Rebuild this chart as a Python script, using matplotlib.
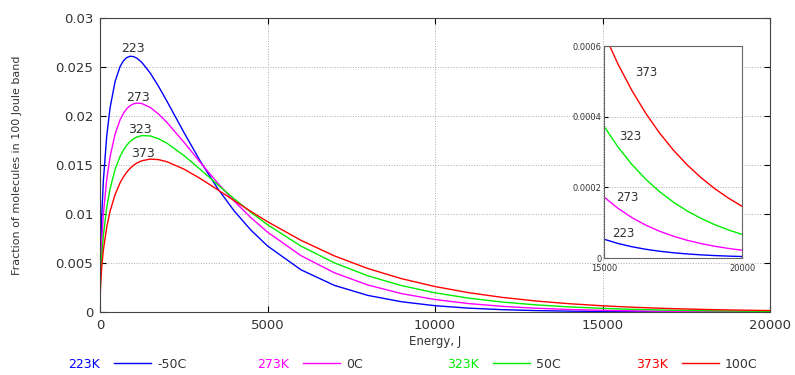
import matplotlib
matplotlib.use('Agg')
import matplotlib.pyplot as plt
from matplotlib.lines import Line2D

energy = [0, 5, 20, 50, 100, 200, 300, 450, 600, 700, 800, 900, 1000, 1100, 1250,
          1500, 1750, 2000, 2500, 3000, 3500, 4000, 4500, 5000, 6000, 7000, 8000,
          9000, 10000, 11000, 12000, 13000, 14000, 15000, 15500, 16000, 16500,
          17000, 17500, 18000, 18500, 19000, 19500, 20000]

frac_223 = [0, 0.003152, 0.006254, 0.009729, 0.013393, 0.017946, 0.020825, 0.023523,
            0.025052, 0.025638, 0.025968, 0.026097, 0.026064, 0.025901, 0.025465,
            0.024377, 0.023008, 0.021494, 0.018352, 0.015350, 0.012661, 0.010335,
            0.008371, 0.006738, 0.004304, 0.002711, 0.001690, 0.0010455, 0.0006424,
            0.0003929, 0.0002393, 0.0001452, 0.0000879, 0.00005304, 0.00004117,
            0.00003194, 0.00002477, 0.00001920, 0.00001488, 0.00001152, 0.00000892,
            0.00000690, 0.00000534, 0.00000413]
frac_273 = [0, 0.002328, 0.004626, 0.007218, 0.009986, 0.013513, 0.015837, 0.018155,
            0.019623, 0.020283, 0.020748, 0.021058, 0.021241, 0.021317, 0.021271,
            0.020871, 0.020192, 0.019335, 0.017343, 0.015242, 0.013208, 0.011328,
            0.009640, 0.008152, 0.005748, 0.003996, 0.002750, 0.001877, 0.0012736,
            0.0008601, 0.0005780, 0.0003873, 0.0002587, 0.0001723, 0.0001406,
            0.0001146, 0.0000933, 0.0000760, 0.0000619, 0.0000503, 0.0000410,
            0.0000333, 0.0000271, 0.0000220]
frac_323 = [0, 0.001810, 0.003599, 0.005628, 0.007812, 0.010644, 0.012560, 0.014547,
            0.015885, 0.016530, 0.017025, 0.017399, 0.017669, 0.017854, 0.017999,
            0.017964, 0.017678, 0.017219, 0.015981, 0.014532, 0.013030, 0.011563,
            0.010181, 0.008909, 0.006725, 0.005005, 0.003687, 0.002695, 0.001958,
            0.001415, 0.001018, 0.0007305, 0.0005222, 0.0003725, 0.0003143,
            0.0002651, 0.0002235, 0.0001883, 0.0001586, 0.0001335, 0.0001124,
            0.0000945, 0.0000795, 0.0000668]
frac_373 = [0, 0.001459, 0.002903, 0.004546, 0.006327, 0.008663, 0.010274, 0.011989,
            0.013190, 0.013794, 0.014279, 0.014664, 0.014967, 0.015199, 0.015437,
            0.015601, 0.015546, 0.015332, 0.014589, 0.013602, 0.012504, 0.011377,
            0.010270, 0.009214, 0.007311, 0.005720, 0.004430, 0.003403, 0.002599,
            0.001974, 0.001494, 0.001126, 0.0008465, 0.0006349, 0.0005491,
            0.0004748, 0.0004104, 0.0003545, 0.0003061, 0.0002642, 0.0002280,
            0.0001967, 0.0001696, 0.0001461]

series = [frac_223, frac_273, frac_323, frac_373]
temps_k = ['223K', '273K', '323K', '373K']
temps_c = ['-50C', '0C', '50C', '100C']
peak_labels = ['223', '273', '323', '373']
colors = ['#0000ff', '#ff00ff', '#00ee00', '#ff0000']

# label anchors in data coords (main plot and inset)
main_lbl_pos = [(985, 0.0269), (1134, 0.0219), (1194, 0.0186), (1283, 0.0162)]
inset_lbl_pos = [(15700, 0.000068), (15830, 0.00017), (15940, 0.000345), (16520, 0.000526)]

txt = '#333333'
fig = plt.figure(figsize=(7.95, 3.75), dpi=100)
ax = fig.add_axes([0.1258, 0.168, 0.8428, 0.784])

for ys, c in zip(series, colors):
    ax.plot(energy, ys, color=c, lw=1.0)
for (x, y), s in zip(main_lbl_pos, peak_labels):
    ax.text(x, y, s, ha='center', va='center', fontsize=9, color=txt)

ax.set_xlim(0, 20000)
ax.set_ylim(0, 0.03)
ax.set_xticks([0, 5000, 10000, 15000, 20000])
ax.set_yticks([0, 0.005, 0.01, 0.015, 0.02, 0.025, 0.03])
ax.set_yticklabels(['0', '0.005', '0.01', '0.015', '0.02', '0.025', '0.03'])
ax.tick_params(direction='in', top=True, right=True, labelsize=9.5,
               labelcolor=txt, length=4, pad=5)
ax.grid(True, linestyle=':', color='#aaaaaa', lw=0.7)
for sp in ax.spines.values():
    sp.set_color('#444444')
ax.set_xlabel('Energy, J', fontsize=8.5, color=txt, labelpad=2)
ax.set_ylabel('Fraction of molecules in 100 Joule band', fontsize=8, color=txt, labelpad=24)

# inset
ins = fig.add_axes([0.760, 0.312, 0.1736, 0.565])
for ys, c in zip(series, colors):
    ins.plot(energy, ys, color=c, lw=1.0)
for (x, y), s in zip(inset_lbl_pos, peak_labels):
    ins.text(x, y, s, ha='center', va='center', fontsize=8.5, color=txt)
ins.set_xlim(15000, 20000)
ins.set_ylim(0, 0.0006)
ins.set_xticks([15000, 20000])
ins.set_yticks([0, 0.0002, 0.0004, 0.0006])
ins.set_yticklabels(['0', '0.0002', '0.0004', '0.0006'])
ins.tick_params(direction='in', labelsize=6, labelcolor=txt, length=3, pad=2)
ins.tick_params(axis='x', pad=4)
ins.grid(True, axis='y', linestyle=':', color='#aaaaaa', lw=0.7)
for sp in ins.spines.values():
    sp.set_color('#666666')

# bottom legend
leg_y = 0.027
starts = [68, 257, 447, 636]
for x0, k, cc, c in zip(starts, temps_k, temps_c, colors):
    fig.text(x0 / 795, leg_y, k, color=c, fontsize=9, va='center', ha='left')
    fig.add_artist(Line2D([(x0 + 46) / 795, (x0 + 83) / 795], [leg_y + 0.004] * 2,
                          color=c, lw=1.0, transform=fig.transFigure))
    fig.text((x0 + 89) / 795, leg_y, cc, color=txt, fontsize=9, va='center', ha='left')

fig.savefig('out.png', dpi=100)
